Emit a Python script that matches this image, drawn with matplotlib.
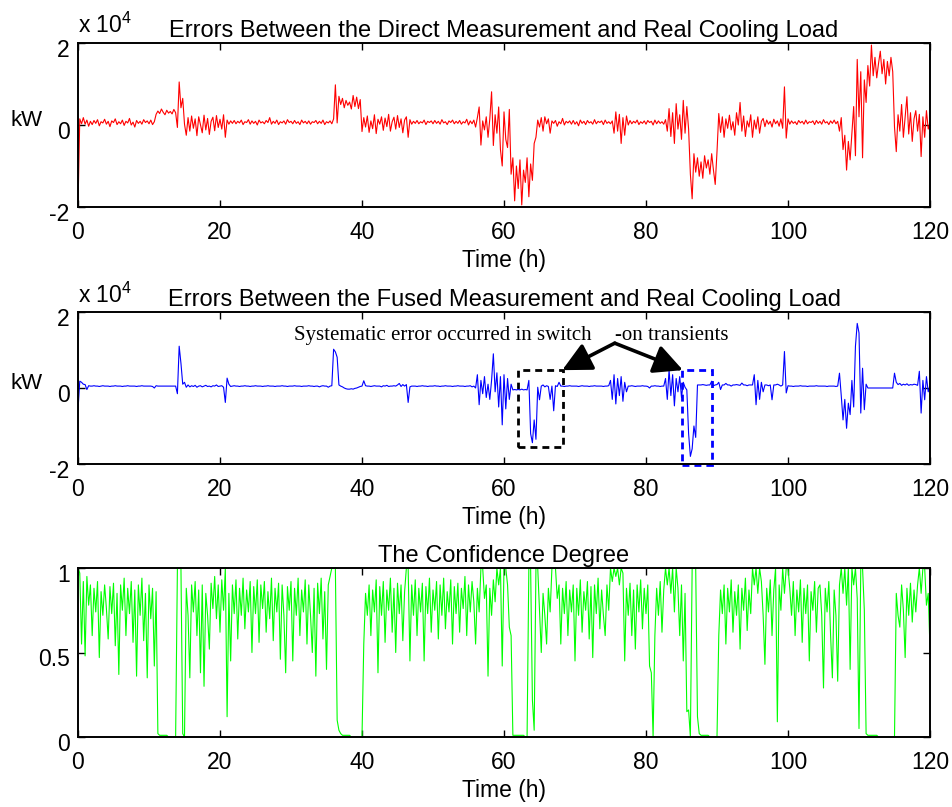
import numpy as np
import matplotlib
matplotlib.use("Agg")
import matplotlib.pyplot as plt
from matplotlib.patches import Rectangle
from matplotlib.transforms import ScaledTranslation

plt.rcParams['font.family'] = ['Liberation Sans', 'DejaVu Sans']
plt.rcParams['mathtext.fontset'] = 'custom'
plt.rcParams['mathtext.rm'] = 'Liberation Sans'

# sampled every 0.25 h, read off the figure
# errors in units of 1e3 kW
direct_err = [
    -20, 1.5, 0.3, 1.8, 0.2, 1.2, -0.3, 0.9, 0.1, 1.1,
    0.4, 1.3, -0.2, 0.8, 0.5, 1.4, 0.2, 0.9, -0.4, 1.0,
    0.6, 1.5, 0.1, 0.8, 0.3, 1.2, -0.1, 0.9, 0.5, 1.6,
    0.0, 0.7, -0.5, 1.1, 0.4, 0.9, 0.2, 1.3, 0.6, 1.0,
    0.3, 1.2, 0.1, 0.8, 2.6, 3.4, 2.8, 3.9, 3.1, 2.5,
    3.6, 2.9, 3.3, 2.7, 3.8, 3.0, -0.6, 10.5, 4.2, 6.5,
    0.2, -2.5, 1.8, -1.5, 2.2, -0.8, 1.5, -2.6, 2.0, 0.1,
    -1.9, 2.4, -1.2, 1.6, -2.3, 0.9, 1.9, -1.4, 2.3, -0.6,
    1.4, -1.0, 2.5, -3.0, 1.2, 0.2, 1.0, 0.4, 1.1, 0.3,
    0.9, 0.5, 1.2, 0.1, 0.8, 0.6, 1.3, 0.2, 1.0, 0.4,
    0.9, 0.0, 1.2, 0.5, 0.8, 0.3, 1.1, 0.6, 1.8, 0.2,
    0.9, 0.4, 1.2, 0.1, 0.8, 0.5, 1.0, 0.2, 1.3, 0.6,
    0.9, 0.3, 1.1, 0.4, 0.8, 0.1, 1.2, 0.5, 0.9, 0.3,
    1.0, 0.2, 0.8, 0.6, 1.1, 0.3, 0.9, 0.4, 1.2, 0.1,
    0.8, 0.5, 1.0, 0.3, 1.5, 9.8, 0.5, 7.0, 5.0, 6.5,
    4.2, 6.0, 4.8, 5.6, 3.9, 7.2, 4.5, 6.8, 4.0, 6.2,
    -1.6, 1.8, -0.5, 2.2, -1.8, 1.0, -0.9, 2.5, -2.1, 1.4,
    0.2, 2.0, -1.3, 1.7, -0.4, 2.6, -1.5, 0.8, 1.9, -1.0,
    2.3, -0.6, 1.5, -1.9, 1.2, 2.0, -3.0, 1.3, 0.2, 0.9,
    0.4, 1.1, 0.3, 0.8, 0.5, 1.2, 0.1, 0.9, 0.6, 1.0,
    0.3, 1.1, 0.4, 0.9, 0.2, 1.3, 0.5, 0.8, 0.1, 1.0,
    0.6, 1.2, 0.3, 0.9, 0.4, 1.1, 0.2, 0.8, 0.5, 1.4,
    0.0, 1.0, 0.3, 1.2, -0.5, 1.8, 4.4, -4.9, 1.0, -1.2,
    2.0, -3.0, 1.5, 8.1, -5.0, 2.5, -2.0, 4.4, -6.0, -10.0,
    3.2, -3.5, -5.5, 3.8, -12.0, -8.0, -18.5, -10.0, -15.5, -8.5,
    -19.5, -11.0, -14.0, -8.0, -17.5, -9.5, -13.5, -4.5, -3.0, 1.2,
    -0.5, 1.8, -1.5, 2.0, 0.3, 1.5, -2.0, 1.0, 0.4, 1.1,
    -0.3, 0.8, 0.3, 1.6, 0.0, 0.9, 0.5, 1.0, 0.2, 1.1,
    0.2, 0.8, -0.2, 1.2, 0.4, 0.9, 0.1, 1.1, 0.5, 0.8,
    0.2, 1.3, 0.3, 0.9, 0.6, 1.0, 0.1, 1.2, 0.4, 0.8,
    0.3, 1.0, -2.0, 3.2, -1.5, 2.6, -4.5, 1.8, -2.5, 2.2,
    0.0, 1.1, 0.3, 0.9, 0.5, 1.2, 0.1, 0.8, 0.4, 1.0,
    0.2, 1.1, 0.6, 0.9, 0.0, 1.2, 0.3, 1.0, 0.4, 0.8,
    0.2, 1.3, -1.5, 4.0, -2.8, 3.0, -4.5, 5.2, -1.0, 2.5,
    -3.5, 6.0, -2.0, 4.5, -1.0, -12.0, -18.0, -7.0, -11.5, -8.0,
    -12.5, -9.0, -13.0, -7.5, -10.5, -8.5, -12.0, -7.0, -11.0, -14.5,
    -6.5, 2.8, -1.8, 2.0, -3.0, 1.5, -0.8, 2.4, -1.2, 0.8,
    -2.5, 3.0, 0.0, 5.5, -1.5, 2.2, -2.8, 1.0, -0.5, 2.5,
    -3.0, 1.2, -1.0, 2.0, -2.0, 0.9, 1.6, -0.4, 1.2, 0.2,
    0.9, -0.5, 1.4, 0.3, 1.0, -0.3, 1.5, -0.8, 9.3, -3.2,
    1.5, 0.2, 1.0, 0.4, 0.8, 0.1, 1.1, 0.5, 0.9, 0.2,
    1.2, 0.3, 0.8, 0.6, 1.0, 0.1, 1.1, 0.4, 0.9, 0.2,
    1.3, 0.5, 0.8, 0.1, 1.0, 0.4, 1.2, 0.3, 0.9, -1.5,
    1.8, -6.0, -2.5, -11.0, -4.0, -8.5, -2.0, 4.5, -7.5, 16.0,
    2.0, 13.0, -8.0, 11.0, 5.5, 14.5, 9.5, 19.5, 12.0, 16.5,
    11.5, 15.0, 18.0, 12.5, 16.0, 10.0, 15.5, 12.0, 16.5, 13.0,
    -0.5, -6.5, 2.5, -1.5, 5.0, -3.0, 1.8, 6.9, -2.2, 3.0,
    -4.0, 1.5, 3.5, -1.5, 2.6, -7.7, 2.0, -3.0, 3.5, -1.0,
    0.5,
]

fused_err = [
    -5.8, 1.8, 1.5, 1.0, 0.9, -0.4, 0.6, 0.5, 0.5, 0.6,
    0.5, 0.5, 0.4, 0.5, 0.6, 0.5, 0.5, 0.5, 0.4, 0.5,
    0.5, 0.6, 0.5, 0.5, 0.5, 0.4, 0.5, 0.5, 0.6, 0.5,
    0.5, 0.5, 0.5, 0.4, 0.5, 0.5, 0.6, 0.5, 0.5, 0.5,
    0.5, 0.5, 0.4, 0.0, 0.6, 0.5, 0.5, 0.5, 0.5, 0.5,
    0.5, 0.5, 0.5, 0.5, 0.5, 0.5, -1.5, 11.0, 6.5, 1.0,
    1.5, 0.2, 0.8, 0.3, 0.6, 0.4, 0.7, 0.2, 0.5, 0.6,
    0.3, 0.5, 0.7, 0.4, 0.5, 0.3, 0.6, 0.5, 0.8, 0.4,
    0.5, 0.6, 0.2, -3.8, 2.6, 1.0, 0.4, 0.5, 0.6, 0.5,
    0.5, 0.4, 0.5, 0.5, 0.6, 0.5, 0.5, 0.4, 0.5, 0.5,
    0.6, 0.5, 0.5, 0.5, 0.4, 0.5, 0.5, 0.6, 0.5, 0.5,
    0.5, 0.4, 0.5, 0.5, 0.5, 0.6, 0.5, 0.5, 0.4, 0.5,
    0.5, 0.5, 0.6, 0.5, 0.5, 0.5, 0.4, 0.5, 0.5, 0.5,
    0.6, 0.5, 0.5, 0.4, 0.5, 0.5, 0.3, 0.5, 0.6, 0.5,
    0.5, 0.2, 0.5, 0.6, 10.2, 9.5, 8.1, 0.8, 0.5, 0.3,
    0.0, -0.2, -0.3, -0.3, -0.2, -0.3, -0.1, 0.0, 0.2, 0.4,
    0.5, 1.9, 0.6, 0.5, 0.5, 0.4, 0.5, 0.6, 0.5, 0.5,
    0.5, 0.3, 0.6, 0.5, 0.7, 0.4, 0.5, 0.5, 0.6, 0.5,
    0.8, 1.2, 0.4, 0.9, 0.5, 0.9, -3.8, 0.3, 0.5, 0.5,
    0.5, 0.4, 0.5, 0.5, 0.6, 0.5, 0.5, 0.4, 0.5, 0.5,
    0.5, 0.6, 0.5, 0.5, 0.4, 0.5, 0.5, 0.6, 0.5, 0.5,
    0.5, 0.4, 0.5, 0.5, 0.6, 0.5, 0.5, 0.5, 0.4, 0.5,
    0.5, 0.6, 0.3, 0.5, 0.0, 3.5, -4.4, 2.0, -1.5, 3.0,
    -2.5, 1.0, -3.0, 2.0, 9.0, -1.0, 4.0, -5.0, 3.0, -9.7,
    3.5, -5.5, 2.5, -3.0, 1.0, -0.5, -0.4, -0.5, -0.4, -0.5,
    -0.3, -0.5, -0.4, -0.5, 2.0, -12.0, -14.4, -8.4, -13.5, 0.2,
    -3.1, 0.5, 0.8, 0.3, 0.6, 0.4, -3.0, 0.5, -6.0, 0.6,
    0.4, 1.5, 0.5, 0.5, 0.4, 0.5, 0.5, 0.6, 0.5, 0.5,
    0.5, 0.5, 0.4, 0.5, 0.6, 0.5, 0.5, 0.5, 0.4, 0.5,
    0.5, 0.6, 0.5, 0.5, 0.5, 0.5, 0.4, 0.5, 0.5, 0.6,
    2.0, -3.0, 3.5, -4.2, 2.5, -2.0, 3.0, -3.5, 1.5, -1.0,
    0.5, 0.5, 0.6, 0.5, 0.4, 0.5, 0.5, 0.5, 0.6, 0.5,
    0.5, 0.4, 0.0, 0.5, 0.5, 0.6, 0.5, 0.5, 0.4, 0.5,
    0.5, 2.5, -3.0, 4.8, -2.0, 3.5, -4.7, 2.5, -1.0, 3.0,
    -2.5, 1.5, 0.2, -0.5, -12.0, -18.0, -16.0, -10.0, -13.0, 0.8,
    0.8, 0.8, 0.9, 0.8, 0.7, 0.8, 0.8, 1.8, 0.6, 0.8,
    0.9, 1.5, -0.4, 0.8, 0.8, 1.2, 0.8, 0.8, 0.5, 0.8,
    0.8, 0.9, 0.8, 0.7, 1.3, 0.8, 0.8, 0.6, 0.8, 0.8,
    0.8, 3.5, -4.4, 2.0, -3.0, 1.5, -1.0, 0.8, 0.8, 0.6,
    0.8, -3.1, 0.8, 0.8, 1.0, 0.8, 0.5, 0.8, 9.6, -1.3,
    0.6, 0.5, 0.5, 0.4, 0.5, 0.5, 0.5, 0.6, 0.5, 0.5,
    0.5, 0.4, 0.5, 0.5, 0.5, 0.5, 0.6, 0.5, 0.5, 0.5,
    0.5, 0.5, 0.4, 0.5, 0.5, 0.5, 0.5, 0.4, 0.5, 3.9,
    -2.0, -8.4, -3.0, -10.6, -4.0, -7.0, 2.0, -5.0, 11.0, 17.0,
    14.5, -6.6, 5.2, -5.7, 1.0, 0.0, 0.0, 0.0, 0.0, 0.0,
    0.0, 0.0, 0.0, 0.0, 0.0, 0.0, 0.0, 0.0, 0.0, 0.0,
    3.9, 1.5, 0.9, 1.2, 0.7, 1.0, 0.8, 1.1, 0.7, 0.9,
    0.8, 1.0, 0.9, 0.7, 4.4, -6.6, 2.0, -3.1, 3.0, -1.0,
    0.5,
]

confidence = [
    1.0, 0.97, 0.55, 0.92, 0.48, 0.95, 0.78, 0.9, 0.6, 0.88,
    0.74, 0.92, 0.47, 0.86, 0.72, 0.9, 0.76, 0.58, 0.89, 0.73,
    0.91, 0.54, 0.85, 0.37, 0.9, 0.75, 0.94, 0.6, 0.88, 0.73,
    0.92, 0.56, 0.87, 0.36, 0.9, 0.72, 0.94, 0.57, 0.85, 0.35,
    0.9, 0.7, 0.88, 0.42, 0.86, 0.02, 0.01, 0.01, 0.01, 0.01,
    0.01, 0.0, 0.0, 0.0, 0.0, 0.0, 1.0, 1.0, 1.0, 0.02,
    0.0, 0.88, 0.72, 0.35, 0.9, 0.74, 0.92, 0.6, 0.87, 0.38,
    0.9, 0.3, 0.85, 0.72, 0.52, 0.91, 0.76, 0.95, 0.7, 0.9,
    0.62, 0.93, 0.75, 1.0, 0.12, 0.85, 0.45, 0.9, 0.73, 0.93,
    0.58, 0.88, 0.72, 0.94, 0.64, 0.87, 0.74, 0.92, 0.5, 0.89,
    0.73, 0.93, 0.56, 0.9, 0.76, 0.92, 0.62, 0.86, 0.7, 0.94,
    0.57, 0.88, 0.74, 0.91, 0.46, 0.9, 0.72, 0.38, 0.89, 0.75,
    0.92, 0.45, 0.88, 0.72, 0.94, 0.6, 0.87, 0.74, 0.93, 0.55,
    0.9, 0.72, 0.5, 0.88, 0.36, 0.91, 0.73, 0.94, 0.58, 0.86,
    0.4, 0.9, 0.95, 1.0, 1.0, 1.0, 0.1, 0.04, 0.02, 0.01,
    0.01, 0.01, 0.01, 0.01, 0.0, 0.0, 0.0, 0.0, 0.0, 0.0,
    0.0, 0.55, 0.85, 0.72, 0.9, 0.6, 0.87, 0.74, 0.93, 0.38,
    0.89, 0.72, 0.92, 0.56, 0.87, 0.75, 0.94, 0.62, 0.88, 0.5,
    0.91, 0.73, 0.9, 0.57, 0.86, 1.0, 1.0, 0.45, 0.9, 0.72,
    0.93, 0.6, 0.88, 0.74, 0.91, 0.45, 0.89, 0.73, 0.94, 0.62,
    0.87, 0.75, 0.92, 0.58, 0.9, 0.72, 0.94, 0.64, 0.86, 0.74,
    0.93, 0.55, 0.89, 0.73, 0.91, 0.62, 0.88, 0.76, 0.95, 0.6,
    0.9, 0.74, 0.92, 0.8, 0.55, 0.88, 0.74, 1.0, 1.0, 0.82,
    0.9, 0.36, 0.88, 0.72, 0.93, 0.8, 1.0, 0.9, 1.0, 0.42,
    1.0, 1.0, 0.9, 0.65, 0.6, 0.01, 0.01, 0.01, 0.01, 0.01,
    0.01, 0.01, 0.0, 0.0, 1.0, 1.0, 0.22, 0.04, 1.0, 1.0,
    0.75, 0.5, 0.85, 0.72, 0.55, 0.88, 0.74, 1.0, 1.0, 1.0,
    0.82, 0.9, 0.55, 0.88, 0.73, 0.92, 0.6, 0.87, 0.74, 0.9,
    0.45, 0.88, 0.72, 0.93, 0.62, 0.86, 0.75, 0.92, 0.58, 0.89,
    0.47, 0.9, 0.73, 0.94, 0.64, 0.87, 0.72, 0.6, 0.9, 0.75,
    1.0, 0.92, 1.0, 0.95, 1.0, 0.9, 1.0, 0.97, 0.45, 0.88,
    0.72, 0.91, 0.6, 0.87, 0.52, 0.9, 0.74, 0.93, 0.64, 0.88,
    0.73, 0.9, 0.42, 0.38, 0.0, 0.6, 0.88, 0.72, 0.92, 0.62,
    0.87, 1.0, 0.9, 1.0, 0.85, 1.0, 0.74, 1.0, 0.88, 0.6,
    0.9, 0.45, 0.85, 0.15, 0.16, 0.0, 1.0, 1.0, 1.0, 0.12,
    0.02, 0.01, 0.01, 0.01, 0.01, 0.01, 0.0, 0.0, 0.0, 0.0,
    0.0, 0.6, 0.87, 0.73, 0.9, 0.55, 0.88, 0.74, 0.93, 0.62,
    0.86, 0.72, 0.9, 0.52, 0.88, 0.75, 0.94, 0.63, 0.87, 0.73,
    1.0, 0.9, 1.0, 0.85, 1.0, 0.92, 0.72, 0.43, 0.88, 0.74,
    0.93, 0.6, 0.87, 1.0, 0.09, 0.9, 0.75, 1.0, 0.85, 1.0,
    1.0, 0.88, 0.72, 0.92, 0.6, 0.87, 0.74, 0.93, 0.56, 0.88,
    0.73, 0.9, 0.45, 0.86, 0.75, 0.92, 0.62, 0.88, 0.9, 0.72,
    0.29, 0.88, 0.74, 0.92, 0.6, 0.35, 0.87, 0.72, 0.33, 0.9,
    1.0, 0.85, 1.0, 0.78, 1.0, 0.4, 1.0, 0.9, 1.0, 0.82,
    0.05, 1.0, 1.0, 0.75, 0.02, 0.01, 0.01, 0.01, 0.01, 0.01,
    0.01, 0.0, 0.0, 0.0, 0.0, 0.0, 0.0, 0.0, 0.0, 0.0,
    0.0, 0.85, 0.72, 0.65, 0.9, 0.75, 0.47, 0.88, 0.72, 0.91,
    0.68, 0.87, 0.74, 0.9, 1.0, 0.85, 1.0, 1.0, 0.78, 0.85,
    0.52,
]

xticks = [0, 20, 40, 60, 80, 100, 120]
titles = ["Errors Between the Direct Measurement and Real Cooling Load",
          "Errors Between the Fused Measurement and Real Cooling Load",
          "The Confidence Degree"]

step = 0.25
t1 = np.arange(len(direct_err)) * step
t2 = np.arange(len(fused_err)) * step
t3 = np.arange(len(confidence)) * step

fig = plt.figure(figsize=(9.52, 8.07), dpi=100)
W, H = 952, 807
ax1 = fig.add_axes([78 / W, 1 - 207 / H, 852 / W, 164 / H])
ax2 = fig.add_axes([78 / W, 1 - 464 / H, 852 / W, 152 / H])
ax3 = fig.add_axes([78 / W, 1 - 737 / H, 852 / W, 169 / H])

# values are in 1e3 kW, the axes show 1e4 kW
ax1.plot(t1, np.array(direct_err) / 10, color='#ff0000', lw=0.8)
ax2.plot(t2, np.array(fused_err) / 10, color='#0000ff', lw=0.8)
ax3.plot(t3, confidence, color='#00ff00', lw=0.8)

for ax, title in zip([ax1, ax2, ax3], titles):
    ax.set_xlim(0, 120)
    ax.set_xticks(xticks)
    ax.set_title(title, fontsize=17, pad=4)
    ax.set_xlabel("Time (h)", fontsize=16.5, labelpad=4)
    ax.tick_params(direction='in', length=5, width=1, top=True, right=True,
                   labelsize=16.5)
    ax.tick_params(axis='x', pad=10)
    ax.tick_params(axis='y', pad=6)
    for sp in ax.spines.values():
        sp.set_linewidth(1.4)

for ax in [ax1, ax2]:
    ax.set_ylim(-2, 2)
    ax.set_yticks([-2, 0, 2])
    ax.set_yticklabels(['-2', '0', '2'])
    ax.text(0.0, 1.03, r'x 10$^{4}$', transform=ax.transAxes, fontsize=16.5,
            ha='left', va='bottom')
    ax.text(-0.06, 0.53, 'kW', transform=ax.transAxes, fontsize=16,
            ha='center', va='center')

ax3.set_ylim(0, 1)
ax3.set_yticks([0, 0.5, 1])
ax3.set_yticklabels(['0', '0.5', '1'])

# y tick labels sit a little below their ticks in the original
shift = ScaledTranslation(0, -5 / 100, fig.dpi_scale_trans)
for ax in [ax1, ax2, ax3]:
    for lab in ax.get_yticklabels():
        lab.set_transform(lab.get_transform() + shift)

# annotation on the fused-error panel
serif = ['Liberation Serif', 'DejaVu Serif']
ax2.text(72.4, 1.26, "Systematic error occurred in switch", family=serif,
         fontsize=15, ha='right', va='baseline')
ax2.text(75.6, 1.26, "-on transients", family=serif,
         fontsize=15, ha='left', va='baseline')
arrow = dict(arrowstyle='-|>,head_length=0.8,head_width=0.4', lw=2.6,
             color='black', shrinkA=0, shrinkB=0, mutation_scale=22)
ax2.annotate('', xy=(68.2, 0.47), xytext=(75.6, 1.18), arrowprops=arrow)
ax2.annotate('', xy=(85.2, 0.47), xytext=(75.6, 1.18), arrowprops=arrow)
ax2.add_patch(Rectangle((62.0, -1.55), 6.3, 2.02, fill=False, ec='black',
                        lw=2, ls=(0, (2.5, 1.8))))
ax2.add_patch(Rectangle((85.1, -2.03), 4.2, 2.5, fill=False, ec='#0000ff',
                        lw=2, ls=(0, (2.5, 1.8)), clip_on=False))

fig.savefig("out.png", dpi=100)
